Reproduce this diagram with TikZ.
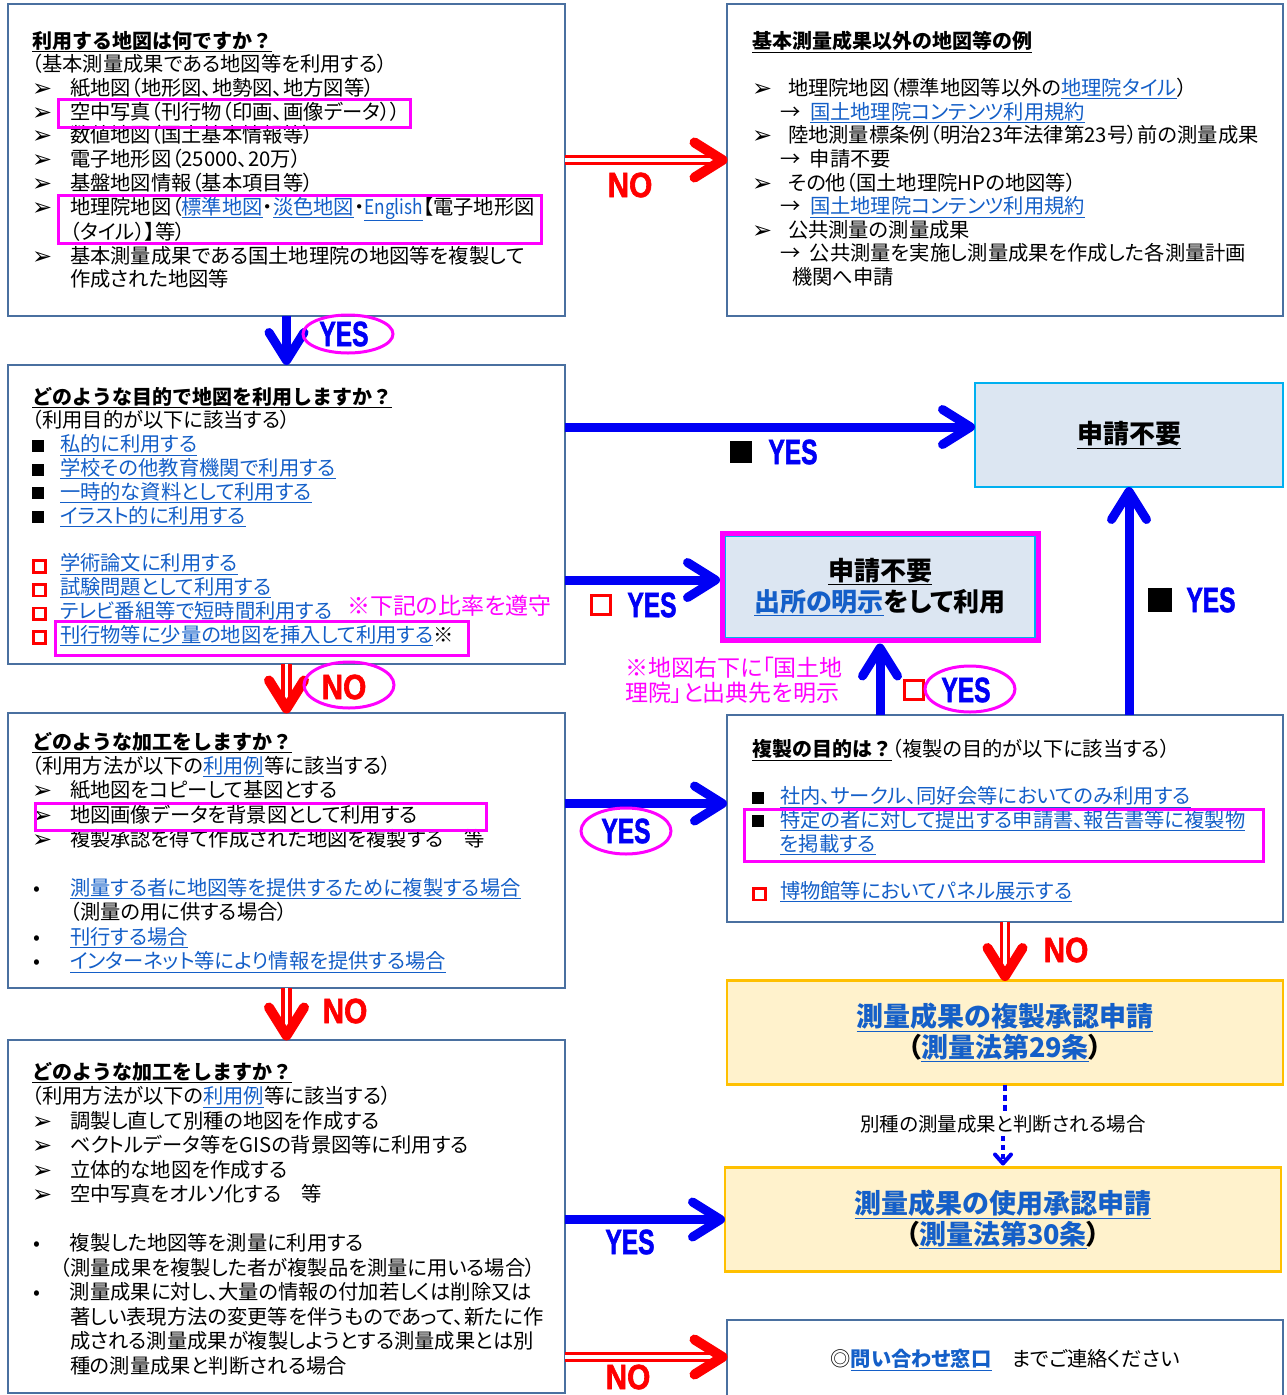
\documentclass[tikz,border=0pt]{standalone}
\usepackage{fontspec}
\usepackage{graphicx}
\setmainfont{Noto Sans CJK JP}[RawFeature=+palt]
\newfontfamily\np{Noto Sans CJK JP}
\newfontfamily\dejavu{DejaVu Sans}
\newfontfamily\heavy{Liberation Sans}[UprightFeatures={FakeBold=2},BoldFeatures={FakeBold=2}]
\usetikzlibrary{calc}
\definecolor{boxblue}{RGB}{74,112,160}
\definecolor{lnk}{RGB}{20,95,200}
\definecolor{ablue}{RGB}{0,0,245}
\definecolor{ared}{RGB}{255,0,0}
\definecolor{mag}{RGB}{255,0,255}
\definecolor{lfill}{RGB}{220,230,242}
\definecolor{cyanb}{RGB}{0,176,240}
\definecolor{yfill}{RGB}{255,242,204}
\definecolor{ybord}{RGB}{255,192,0}
\newcommand\lk[1]{{\color{lnk}\underline{#1}}}
\newcommand\ttl[1]{{\np\bfseries\fontsize{20}{20}\selectfont\underline{#1}}}
\newcommand\arr[1][38pt]{\makebox[#1][l]{\raisebox{-1pt}{\dejavu\fontsize{24}{24}\selectfont ➢}}}
\newcommand\bsq[1][28pt]{\makebox[#1][l]{\rule{12pt}{12pt}}}
\newcommand\rsq[1][28pt]{\makebox[#1][l]{\color{ared}\setlength\fboxrule{2.8pt}\setlength\fboxsep{0pt}\fbox{\rule{0pt}{9pt}\hspace{9pt}}}}
\newcommand\dotb{\makebox[38pt][l]{\hspace{1pt}•}}
\newcommand\YES{\scalebox{0.7}[1]{YES}}
\newcommand\NO{\scalebox{0.85}[1]{NO}}
\newcommand\arrowhd[4]{\draw[#1,line width=#2,line cap=round,line join=round]
  ($(#3)+(#4+180:4.5)+(#4+148:33)$) -- ($(#3)+(#4+180:4.5)$) -- ($(#3)+(#4+180:4.5)+(#4-148:33)$);}
\begin{document}
\begin{tikzpicture}[x=1pt,y=-1pt,
  qbox/.style={draw=boxblue,line width=2.2pt,fill=white,inner sep=0pt,outer sep=0pt},
  txt/.style={anchor=north west,inner sep=0pt,outer sep=0pt,align=left,font=\fontsize{20.3}{#1}\selectfont},
  txt/.default=23.7,
  big/.style={align=center,inner sep=0pt,outer sep=0pt,font=\fontsize{26}{31}\selectfont\bfseries},
  yes/.style={text=ablue,font=\heavy\bfseries\fontsize{35}{35}\selectfont,inner sep=0pt},
  no/.style={text=ared,font=\heavy\bfseries\fontsize{35}{35}\selectfont,inner sep=0pt},
  hl/.style={draw=mag,line width=3pt},
  ell/.style={draw=mag,line width=3pt},
  bshaft/.style={draw=ablue,line width=9pt},
  rshaft/.style={draw=ared,line width=3.5pt,double=white,double distance=3.5pt},
  note/.style={text=mag,font=\fontsize{23}{25}\selectfont,align=left,inner sep=0pt}]
\useasboundingbox (0,0) rectangle (1287,1395);
\fill[white] (0,0) rectangle (1287,1395);

% ---------- boxes ----------
\node[qbox,minimum width=557pt,minimum height=312pt] (A) at (286.5,160) {};
\node[qbox,minimum width=556pt,minimum height=312pt] (B) at (1005,160) {};
\node[qbox,minimum width=557pt,minimum height=299pt] (C) at (286.5,514.5) {};
\node[qbox,minimum width=557pt,minimum height=275pt] (F) at (286.5,850.5) {};
\node[qbox,minimum width=556pt,minimum height=207pt] (G) at (1005,818.5) {};
\node[qbox,minimum width=557pt,minimum height=353pt] (K) at (286.5,1216.5) {};
\node[big,draw=cyanb,line width=2.5pt,fill=lfill,minimum width=308pt,minimum height=104pt] (D) at (1129,435) {\underline{申請不要}};
\node[big,draw=cyanb,line width=1.5pt,fill=lfill,minimum width=310pt,minimum height=101pt] (E) at (880,587) {\underline{申請不要}\\\lk{出所の明示}をして利用};
\draw[mag,line width=5pt] ($(E.south west)+(-3,3)$) rectangle ($(E.north east)+(3,-3)$);
\node[big,font=\fontsize{27}{31}\selectfont\bfseries,draw=ybord,line width=2.5pt,fill=yfill,minimum width=556pt,minimum height=104pt] (H) at (1005,1032.5) {\lk{測量成果の複製承認申請}\\（\lk{測量法第29条}）};
\node[big,font=\fontsize{27}{31}\selectfont\bfseries,draw=ybord,line width=2.5pt,fill=yfill,minimum width=556pt,minimum height=104pt] (I) at (1003,1219.5) {\lk{測量成果の使用承認申請}\\（\lk{測量法第30条}）};
\node[qbox,minimum width=556pt,minimum height=80pt,font=\fontsize{20.3}{24}\selectfont] (J) at (1005,1360) {◎\textbf{\lk{問い合わせ窓口}}　までご連絡ください};

% ---------- box texts ----------
\node[txt] (At) at (32,31) {\ttl{利用する地図は何ですか？}\\
（基本測量成果である地図等を利用する）\\
\arr 紙地図（地形図、地勢図、地方図等）\\
\arr 空中写真（刊行物（印画、画像データ））\\
\arr 数値地図（国土基本情報等）\\
\arr 電子地形図（25000、20万）\\
\arr 基盤地図情報（基本項目等）\\
\arr 地理院地図（\lk{標準地図}・\lk{淡色地図}・\lk{\scalebox{0.85}[1]{English}}【電子地形図\\
\hspace*{38pt}（タイル）】等）\\
\arr 基本測量成果である国土地理院の地図等を複製して\\
\hspace*{38pt}作成された地図等};

\node[txt=23.6] (Bt) at (752,31) {\ttl{基本測量成果以外の地図等の例}\\
\mbox{}\\
\arr[36pt]地理院地図（標準地図等以外の\lk{地理院タイル}）\\
\hspace*{28pt}\makebox[30pt][l]{→}\lk{国土地理院コンテンツ利用規約}\\
\arr[36pt]陸地測量標条例（明治23年法律第23号）前の測量成果\\
\hspace*{28pt}\makebox[30pt][l]{→}申請不要\\
\arr[36pt]その他（国土地理院HPの地図等）\\
\hspace*{28pt}\makebox[30pt][l]{→}\lk{国土地理院コンテンツ利用規約}\\
\arr[36pt]公共測量の測量成果\\
\hspace*{28pt}\makebox[30pt][l]{→}公共測量を実施し測量成果を作成した各測量計画\\
\hspace*{40pt}機関へ申請};

\node[txt=23.8] (Ct) at (32,387) {\ttl{どのような目的で地図を利用しますか？}\\
（利用目的が以下に該当する）\\
\bsq\lk{私的に利用する}\\
\bsq\lk{学校その他教育機関で利用する}\\
\bsq\lk{一時的な資料として利用する}\\
\bsq\lk{イラスト的に利用する}\\
\mbox{}\\
\rsq\lk{学術論文に利用する}\\
\rsq\lk{試験問題として利用する}\\
\rsq\lk{テレビ番組等で短時間利用する}\\
\rsq\lk{刊行物等に少量の地図を挿入して利用する}※};
\node[note,anchor=west] (n1) at (347,606) {※下記の比率を遵守};

\node[txt=24.4] (Ft) at (32,732) {\ttl{どのような加工をしますか？}\\
（利用方法が以下の\lk{利用例}等に該当する）\\
\arr 紙地図をコピーして基図とする\\
\arr 地図画像データを背景図として利用する\\
\arr 複製承認を得て作成された地図を複製する　等\\
\mbox{}\\
\dotb\lk{測量する者に地図等を提供するために複製する場合}\\
\hspace*{38pt}（測量の用に供する場合）\\
\dotb\lk{刊行する場合}\\
\dotb\lk{インターネット等により情報を提供する場合}};

\node[txt=23.7] (Gt) at (752,739) {\ttl{複製の目的は？}（複製の目的が以下に該当する）\\
\mbox{}\\
\bsq\lk{社内、サークル、同好会等においてのみ利用する}\\
\bsq\lk{特定の者に対して提出する申請書、報告書等に複製物}\\
\hspace*{28pt}\lk{を掲載する}\\
\mbox{}\\
\rsq\lk{博物館等においてパネル展示する}};

\node[txt=24.5] (Kt) at (32,1062) {\ttl{どのような加工をしますか？}\\
（利用方法が以下の\lk{利用例}等に該当する）\\
\arr 調製し直して別種の地図を作成する\\
\arr ベクトルデータ等をGISの背景図等に利用する\\
\arr 立体的な地図を作成する\\
\arr 空中写真をオルソ化する　等\\
\mbox{}\\
\dotb 複製した地図等を測量に利用する\\
\hspace*{28pt}（測量成果を複製した者が複製品を測量に用いる場合）\\
\dotb 測量成果に対し、大量の情報の付加若しくは削除又は\\
\hspace*{38pt}著しい表現方法の変更等を伴うものであって、新たに作\\
\hspace*{38pt}成される測量成果が複製しようとする測量成果とは別\\
\hspace*{38pt}種の測量成果と判断される場合};

% ---------- highlight frames ----------
\draw[hl] (58,99) rectangle (410,127);
\draw[hl] (58,195) rectangle (541,243);
\draw[hl] (55,621) rectangle (468,655);
\draw[hl] (35,803) rectangle (486,830);
\draw[hl] (744,809) rectangle (1263,861);

% ---------- connectors ----------
% A -> B  NO
\draw[rshaft] (A.east) -- ($(B.west)+(-10,0)$);
\arrowhd{ared}{10pt}{B.west}{0}
\node[no] (nAB) at (630,185) {\NO};

% A -> C  YES
\draw[bshaft] (A.south) -- ($(C.north)+(0,-8)$);
\arrowhd{ablue}{9pt}{C.north}{90}
\node[yes] (yAC) at (344,334) {\YES};
\draw[ell] ($(yAC)+(4,0)$) ellipse [x radius=45, y radius=19];

% C -> D  ■ YES
\coordinate (dIn) at ($(D.west)+(0,-8)$);
\draw[bshaft] (C.east |- dIn) -- ($(dIn)+(-8,0)$);
\arrowhd{ablue}{9pt}{dIn}{0}
\node[fill=black,minimum size=22pt,inner sep=0pt] (sqCD) at (741,452) {};
\node[yes] (yCD) at (793,452) {\YES};

% C -> E  □ YES
\coordinate (eIn) at ($(E.west)+(-5,-7)$);
\draw[bshaft] (C.east |- eIn) -- ($(eIn)+(-8,0)$);
\arrowhd{ablue}{9pt}{eIn}{0}
\node[draw=ared,line width=3pt,minimum size=19pt,inner sep=0pt] (sqCE) at (601,605) {};
\node[yes] (yCE) at (652,605) {\YES};

% C -> F  NO
\draw[rshaft] (C.south) -- ($(F.north)+(0,-10)$);
\arrowhd{ared}{10pt}{F.north}{90}
\node[no] (nCF) at (344,687) {\NO};
\draw[ell] ($(nCF)+(5,-2)$) ellipse [x radius=45, y radius=23];

% F -> G  YES
\coordinate (gIn) at ($(G.west)+(0,-15)$);
\draw[bshaft] (F.east |- gIn) -- ($(gIn)+(-8,0)$);
\arrowhd{ablue}{9pt}{gIn}{0}
\node[yes] (yFG) at (626,831) {\YES};
\draw[ell] (yFG) ellipse [x radius=45, y radius=23];

% G -> E  □ YES
\coordinate (eBot) at ($(E.south)+(0,6)$);
\draw[bshaft] (G.north -| eBot) -- ($(eBot)+(0,8)$);
\arrowhd{ablue}{9pt}{eBot}{-90}
\node[draw=ared,line width=3pt,minimum size=19pt,inner sep=0pt] (sqGE) at (914,690) {};
\node[yes] (yGE) at (966,690) {\YES};
\draw[ell] ($(yGE)+(4,-1)$) ellipse [x radius=45, y radius=23];
\node[note,anchor=north west] (n2) at (625,657) {※地図右下に「国土地\\理院」と出典先を明示};

% G -> D  ■ YES
\draw[bshaft] (G.north -| D.south) -- ($(D.south)+(0,8)$);
\arrowhd{ablue}{9pt}{D.south}{-90}
\node[fill=black,minimum size=24pt,inner sep=0pt] (sqGD) at (1160,600) {};
\node[yes] (yGD) at (1211,600) {\YES};

% G -> H  NO
\draw[rshaft] (G.south) -- ($(H.north)+(0,-10)$);
\arrowhd{ared}{10pt}{H.north}{90}
\node[no] (nGH) at (1066,950) {\NO};

% H -> I  dotted
\node[font=\fontsize{19.5}{24}\selectfont,inner sep=3pt] (lbl) at (1003,1124) {別種の測量成果と判断される場合};
\draw[ablue,line width=3.5pt,dash pattern=on 6pt off 4pt] (H.south) -- (H.south |- lbl.north);
\draw[ablue,line width=3.5pt,dash pattern=on 5pt off 4pt] (I.north |- lbl.south) -- ($(I.north)+(0,-4)$);
\draw[ablue,line width=4pt,line cap=round,line join=round] ($(I.north)+(-8,-13)$) -- ($(I.north)+(0,-4)$) -- ($(I.north)+(8,-13)$);

% F -> K  NO
\draw[rshaft] (F.south) -- ($(K.north)+(0,-10)$);
\arrowhd{ared}{10pt}{K.north}{90}
\node[no] (nFK) at (345,1011) {\NO};

% K -> I  YES
\draw[bshaft] (K.east |- I.west) -- ($(I.west)+(-8,0)$);
\arrowhd{ablue}{9pt}{I.west}{0}
\node[yes] (yKI) at (630,1242) {\YES};

% K -> J  NO
\coordinate (jIn) at ($(J.west)+(0,-3)$);
\draw[rshaft] (K.east |- jIn) -- ($(jIn)+(-10,0)$);
\arrowhd{ared}{10pt}{jIn}{0}
\node[no] (nKJ) at (628,1377) {\NO};
\end{tikzpicture}
\end{document}
